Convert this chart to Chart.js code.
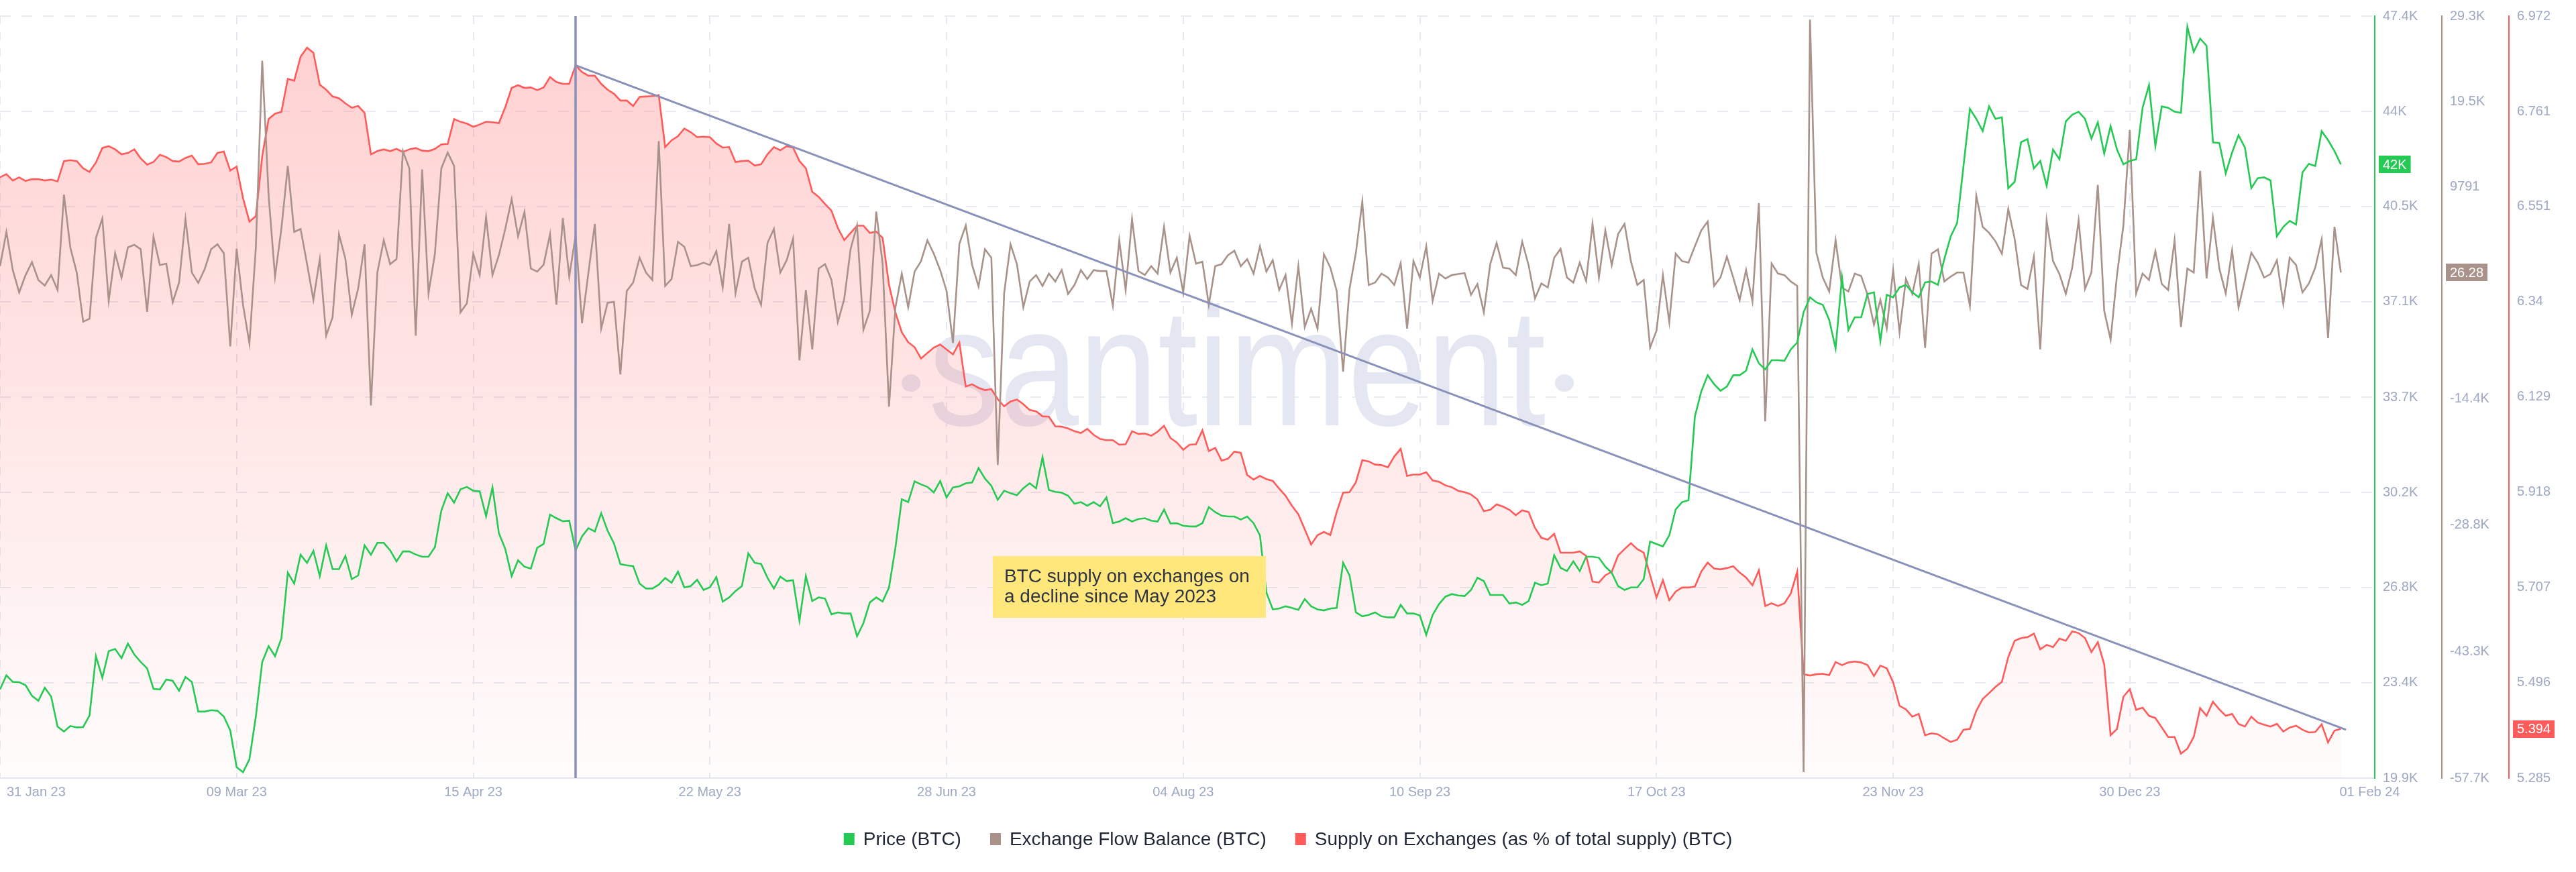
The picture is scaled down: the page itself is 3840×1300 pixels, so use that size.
<!DOCTYPE html>
<html><head><meta charset="utf-8">
<script src="https://cdn.jsdelivr.net/npm/chart.js@4.4.1/dist/chart.umd.min.js"></script>
<style>html,body{margin:0;padding:0;background:#fff;}#wrap{width:3840px;height:1300px;position:relative;}</style>
</head><body><div id="wrap"><canvas id="c" width="3840" height="1300"></canvas></div>
<script>
// ---- data (daily, day 0 = 31 Jan 2023) ----
const startDate = '2023-01-31';
const priceK = [
23.10,23.61,23.37,23.36,23.25,22.87,22.69,23.16,22.84,21.76,
21.58,21.78,21.73,21.74,22.16,24.30,23.52,24.48,24.56,24.23,
24.75,24.36,24.09,23.86,23.12,23.10,23.46,23.41,23.05,23.55,
23.37,22.30,22.30,22.35,22.33,22.12,21.62,20.29,20.11,20.58,
22.12,24.09,24.66,24.30,24.95,27.31,26.92,27.96,27.67,28.10,
27.19,28.30,27.44,27.44,27.92,27.08,27.21,28.30,27.96,28.39,
28.39,28.12,27.72,28.08,28.08,27.97,27.89,27.89,28.24,29.55,
30.18,29.84,30.32,30.41,30.27,30.25,29.35,30.39,28.74,28.17,
27.19,27.76,27.53,27.46,28.21,28.35,29.41,29.28,29.17,29.19,
28.12,28.62,28.92,28.80,29.46,28.83,28.37,27.62,27.58,27.55,
26.92,26.74,26.74,26.88,27.12,26.95,27.35,26.78,26.83,27.06,
26.69,26.79,27.15,26.27,26.42,26.65,26.83,28.01,27.67,27.63,
27.13,26.74,27.17,27.01,27.04,25.58,27.19,26.29,26.42,26.38,
25.81,25.88,25.84,25.84,25.02,25.49,26.24,26.42,26.27,26.78,
28.21,29.96,29.86,30.61,30.50,30.41,30.21,30.62,30.03,30.39,
30.43,30.54,30.57,31.09,30.71,30.45,29.94,30.27,30.18,30.11,
30.36,30.54,30.36,31.48,30.30,30.23,30.20,30.09,29.80,29.86,
29.73,29.86,29.71,30.03,29.10,29.16,29.28,29.16,29.25,29.28,
29.19,29.16,29.59,29.09,29.10,29.01,28.98,28.98,29.10,29.68,
29.50,29.37,29.34,29.34,29.23,29.34,29.10,28.66,26.60,25.99,
26.02,26.10,26.04,25.97,26.36,26.10,25.99,25.95,26.02,26.04,
27.67,27.22,25.88,25.74,25.79,25.88,25.74,25.70,25.70,26.15,
25.84,25.84,25.77,25.07,25.79,26.18,26.45,26.54,26.49,26.47,
26.69,27.13,27.01,26.51,26.51,26.51,26.20,26.24,26.15,26.29,
26.95,26.86,26.92,27.94,27.49,27.37,27.72,27.37,27.89,27.89,
27.85,27.53,27.31,26.83,26.69,26.78,26.78,27.08,28.44,28.35,
28.26,28.66,29.60,29.86,29.93,32.95,33.85,34.44,34.12,33.88,
34.03,34.44,34.44,34.60,35.37,34.87,34.65,34.98,34.98,34.96,
35.37,35.62,36.71,37.25,37.07,36.98,36.44,35.41,37.97,36.07,
36.53,36.53,37.37,37.43,35.67,37.34,37.25,37.61,37.70,37.43,
37.25,37.79,37.82,37.70,38.63,39.45,39.93,41.99,44.05,43.69,
43.25,44.14,43.69,43.75,41.19,41.42,42.85,42.96,41.90,42.17,
41.28,42.58,42.23,43.60,43.84,43.95,43.69,42.98,43.57,42.44,
43.43,42.58,42.05,42.17,42.23,44.09,44.91,42.71,44.14,44.09,
43.95,43.91,47.01,46.11,46.59,46.33,42.84,42.82,41.72,42.48,
43.10,42.66,41.19,41.55,41.58,41.47,39.45,39.79,40.01,39.88,
41.76,42.07,41.99,43.25,42.92,42.53,42.05];
const flowK = [
0.75,4.66,0.30,-2.25,-0.27,1.21,-0.83,-1.46,-0.27,-1.97,
8.91,2.85,0.02,-5.59,-5.25,3.98,6.19,-3.21,2.23,-0.55,
2.90,3.19,2.68,-4.46,4.09,0.87,1.04,-3.38,-1.12,6.13,
0.02,-1.17,0.41,2.68,3.25,2.23,-8.42,2.73,-3.67,-8.08,
2.85,24.20,8.80,-0.44,5.06,12.19,4.66,5.00,1.04,-3.10,
1.55,-7.18,-5.08,4.38,1.60,-4.80,-1.80,3.25,-15.16,0.02,
3.70,0.98,1.55,13.89,11.91,-7.18,11.80,-2.36,2.17,11.91,
13.72,12.19,-4.52,-3.50,2.17,-0.27,6.36,-0.27,2.00,5.00,
8.40,4.15,6.93,0.47,0.13,0.92,4.43,-3.67,6.25,-0.44,
4.26,-5.76,0.02,5.57,-6.38,-3.44,-3.33,-11.60,-2.08,-1.12,
1.71,0.02,-0.83,15.03,-1.51,-0.72,3.53,2.96,0.75,0.87,
1.15,0.87,2.45,-1.68,5.57,-2.36,1.26,1.71,-1.80,-3.67,
3.41,5.00,0.02,1.43,3.90,-10.01,-1.97,-8.76,0.47,0.98,
-0.83,-5.65,-2.99,2.73,5.40,-6.50,-4.35,6.98,1.04,-15.28,
-3.95,-0.10,-3.95,0.13,1.32,3.70,2.17,0.30,-2.08,-8.03,
3.30,5.40,0.87,-1.57,2.68,1.71,-21.96,-2.36,3.25,0.98,
-3.95,-1.00,-0.27,-1.51,-0.10,-1.00,0.30,-2.42,-1.40,0.30,
-0.72,0.30,0.19,0.19,-3.78,3.70,-1.97,6.13,0.19,-0.27,
0.75,-0.10,5.23,0.02,1.71,-2.25,4.20,1.04,1.26,-3.67,
0.75,0.98,2.00,2.51,0.75,1.55,-0.10,3.02,0.13,1.43,
-1.97,-0.27,-5.82,0.75,-6.21,-4.12,-6.38,2.11,0.58,-2.08,
-11.31,-1.85,2.28,8.12,-1.40,-1.12,-0.10,-0.55,-1.40,1.09,
-6.38,1.32,-0.55,3.02,-3.21,-0.10,-0.66,-0.27,-0.15,-0.04,
-2.53,-1.29,-4.52,0.98,3.41,0.58,0.47,-0.27,3.53,0.87,
-2.93,-1.23,-1.68,1.71,2.73,-0.55,-1.12,1.15,-0.95,5.57,
-0.55,4.83,0.87,4.43,5.57,1.32,-1.40,-0.83,-8.54,-6.61,
-0.27,-5.65,2.17,1.32,1.15,3.02,4.83,5.85,-1.51,-0.55,
1.83,-0.55,-3.10,0.30,-3.27,7.95,-16.98,1.04,-0.10,-0.27,
-1.00,-1.51,-57.02,28.90,2.28,-0.55,-2.14,3.70,-1.68,-2.14,
-0.10,-0.38,-2.53,-5.93,-3.10,-6.38,0.30,-6.78,-0.72,-2.42,
0.98,-8.59,2.17,2.68,-1.00,-0.44,0.02,0.02,-3.78,8.80,
5.23,4.55,3.58,2.17,7.27,3.87,-1.40,-1.85,1.83,-8.76,
5.96,1.32,-0.15,-2.42,0.58,5.96,-1.85,0.02,10.04,-4.35,
-7.63,-0.27,5.40,16.27,-2.36,-0.10,-0.83,2.45,-1.29,-1.97,
3.70,-6.21,0.47,0.02,11.63,-0.66,6.25,0.47,-2.36,2.56,
-3.95,-0.83,2.28,1.15,-0.55,-0.15,1.43,-3.55,1.71,0.87,
-2.25,-1.23,0.58,3.81,-7.46,5.23,0.02628];
const supplyPct = [
6.615,6.622,6.608,6.615,6.607,6.611,6.611,6.608,6.610,6.606,
6.651,6.653,6.651,6.635,6.627,6.648,6.680,6.684,6.677,6.666,
6.669,6.677,6.657,6.643,6.649,6.665,6.660,6.651,6.650,6.658,
6.663,6.644,6.645,6.648,6.669,6.672,6.630,6.639,6.569,6.517,
6.529,6.662,6.744,6.756,6.760,6.833,6.829,6.882,6.902,6.891,
6.820,6.809,6.794,6.790,6.779,6.769,6.773,6.758,6.666,6.673,
6.677,6.673,6.678,6.671,6.677,6.680,6.674,6.673,6.678,6.688,
6.689,6.744,6.738,6.734,6.727,6.732,6.738,6.737,6.735,6.770,
6.813,6.819,6.813,6.814,6.808,6.814,6.837,6.826,6.822,6.822,
6.863,6.848,6.840,6.840,6.822,6.809,6.800,6.785,6.785,6.773,
6.793,6.794,6.795,6.797,6.682,6.697,6.706,6.723,6.715,6.704,
6.705,6.704,6.690,6.681,6.682,6.649,6.651,6.652,6.641,6.644,
6.666,6.682,6.675,6.684,6.681,6.651,6.635,6.583,6.572,6.556,
6.541,6.503,6.476,6.492,6.508,6.508,6.492,6.495,6.481,6.377,
6.316,6.272,6.250,6.239,6.214,6.226,6.238,6.245,6.234,6.223,
6.249,6.152,6.157,6.149,6.144,6.146,6.124,6.108,6.119,6.123,
6.113,6.100,6.097,6.086,6.085,6.064,6.063,6.059,6.053,6.049,
6.058,6.045,6.036,6.033,6.033,6.023,6.024,6.053,6.047,6.048,
6.043,6.052,6.065,6.038,6.028,6.012,6.023,6.024,6.055,6.009,
6.016,5.988,5.992,6.008,6.005,5.956,5.946,5.954,5.947,5.943,
5.926,5.910,5.888,5.869,5.836,5.802,5.823,5.830,5.823,5.874,
5.917,5.918,5.940,5.989,5.986,5.979,5.978,5.973,5.997,6.014,
5.954,5.957,5.957,5.962,5.944,5.941,5.933,5.929,5.921,5.918,
5.913,5.902,5.876,5.879,5.891,5.886,5.879,5.867,5.878,5.874,
5.839,5.817,5.813,5.826,5.784,5.784,5.784,5.787,5.777,5.720,
5.718,5.734,5.742,5.778,5.792,5.805,5.792,5.784,5.734,5.685,
5.723,5.679,5.698,5.707,5.707,5.709,5.742,5.762,5.749,5.747,
5.750,5.754,5.740,5.729,5.712,5.745,5.666,5.672,5.666,5.672,
5.694,5.742,5.515,5.512,5.515,5.516,5.513,5.542,5.535,5.541,
5.543,5.541,5.535,5.511,5.534,5.528,5.497,5.445,5.437,5.421,
5.427,5.380,5.384,5.382,5.373,5.365,5.370,5.392,5.394,5.434,
5.460,5.473,5.487,5.498,5.553,5.589,5.595,5.597,5.605,5.570,
5.580,5.575,5.594,5.589,5.610,5.606,5.595,5.564,5.586,5.537,
5.380,5.394,5.465,5.482,5.436,5.441,5.423,5.418,5.397,5.376,
5.376,5.339,5.350,5.376,5.440,5.423,5.454,5.437,5.423,5.427,
5.405,5.399,5.421,5.408,5.403,5.399,5.405,5.388,5.397,5.401,
5.392,5.386,5.387,5.404,5.364,5.390,5.394];
const trendLine = [{x: 90, y: 6.863}, {x: 366.8, y: 5.392}];
const markerDay = 90;
const xTickDays = [0, 37, 74, 111, 148, 185, 222, 259, 296, 333];
const xTickLabels = ['31 Jan 23','09 Mar 23','15 Apr 23','22 May 23','28 Jun 23','04 Aug 23','10 Sep 23','17 Oct 23','23 Nov 23','30 Dec 23'];
const endTickDay = 366, endTickLabel = '01 Feb 24';
const priceTickValues = [19.9, 23.34, 26.78, 30.21, 33.65, 37.09, 40.53, 43.96, 47.4];
const priceTickLabels = ['19.9K','23.4K','26.8K','30.2K','33.7K','37.1K','40.5K','44K','47.4K'];
const flowTickValues = [-57.7, -43.3, -28.8, -14.4, 9.791, 19.5, 29.3];
const flowTickLabels = ['-57.7K','-43.3K','-28.8K','-14.4K','9791','19.5K','29.3K'];
const supplyTickValues = [5.285, 5.496, 5.707, 5.918, 6.129, 6.34, 6.551, 6.761, 6.972];
const supplyTickLabels = ['5.285','5.496','5.707','5.918','6.129','6.34','6.551','6.761','6.972'];
const seriesNames = ['Price (BTC)', 'Exchange Flow Balance (BTC)', 'Supply on Exchanges (as % of total supply) (BTC)'];
const noteLines = ['BTC supply on exchanges on', 'a decline since May 2023'];
const watermarkText = 'santiment';

const GREEN = '#26c953', BROWN = '#a8928a', RED = '#ff5b5b', SLATE = '#8a91b9';
const TICK_COLOR = '#9ea8c3';
const FONT = '"Liberation Sans", Arial, Helvetica, sans-serif';
const toXY = arr => arr.map((v, i) => ({x: i, y: v}));

const decor = {
  id: 'decor',
  beforeDatasetsDraw(chart) {
    const ctx = chart.ctx;
    ctx.save();
    ctx.fillStyle = '#e4e7f2';
    ctx.font = '250px ' + FONT;
    ctx.textBaseline = 'alphabetic';
    ctx.textAlign = 'left';
    const w = ctx.measureText(watermarkText).width;
    const target = 920;
    ctx.translate(1384, 634);
    ctx.scale(target / w, 1);
    ctx.fillText(watermarkText, 0, 0);
    ctx.restore();
    ctx.save();
    ctx.fillStyle = '#e4e7f2';
    ctx.beginPath(); ctx.ellipse(1358, 571, 14, 13, 0, 0, Math.PI * 2); ctx.fill();
    ctx.beginPath(); ctx.ellipse(2332, 571, 14, 13, 0, 0, Math.PI * 2); ctx.fill();
    ctx.restore();
  },
  afterDatasetsDraw(chart) {
    const ctx = chart.ctx, ca = chart.chartArea;
    const xs = chart.scales.x;
    ctx.save();
    const vx = Math.round(xs.getPixelForValue(markerDay));
    ctx.strokeStyle = SLATE; ctx.lineWidth = 3.5;
    ctx.beginPath(); ctx.moveTo(vx, ca.top); ctx.lineTo(vx, ca.bottom); ctx.stroke();
    // note box
    ctx.fillStyle = '#ffe77b';
    ctx.fillRect(1480, 829, 407, 92);
    ctx.fillStyle = '#2e3346';
    ctx.font = '28px ' + FONT;
    ctx.textAlign = 'left'; ctx.textBaseline = 'alphabetic';
    ctx.fillText(noteLines[0], 1497, 868);
    ctx.fillText(noteLines[1], 1497, 898);
    ctx.restore();
  },
  afterDraw(chart) {
    const ctx = chart.ctx, ca = chart.chartArea;
    const xs = chart.scales.x;
    ctx.save();
    // x tick labels
    ctx.fillStyle = TICK_COLOR;
    ctx.font = '20px ' + FONT;
    ctx.textBaseline = 'alphabetic';
    xTickDays.forEach((d, i) => {
      const px = xs.getPixelForValue(d);
      if (i === 0) { ctx.textAlign = 'left'; ctx.fillText(xTickLabels[i], px + 10, 1187); }
      else { ctx.textAlign = 'center'; ctx.fillText(xTickLabels[i], px, 1187); }
    });
    ctx.textAlign = 'left';
    ctx.fillText(endTickLabel, xs.getPixelForValue(endTickDay) - 2, 1187);
    // legend
    ctx.font = '28px ' + FONT;
    const colors = [GREEN, BROWN, RED];
    const widths = seriesNames.map(n => ctx.measureText(n).width);
    const boxW = 16, boxGap = 13, itemGap = 43;
    const total = widths.reduce((a, w) => a + boxW + boxGap + w, 0) + itemGap * (seriesNames.length - 1);
    let lx = 1920 - total / 2;
    seriesNames.forEach((n, i) => {
      ctx.fillStyle = colors[i];
      ctx.fillRect(lx, 1242, boxW, 18);
      ctx.fillStyle = '#1f2636';
      ctx.textAlign = 'left';
      ctx.fillText(n, lx + boxW + boxGap, 1260);
      lx += boxW + boxGap + widths[i] + itemGap;
    });
    // last value badges
    const badges = [
      {scale: chart.scales.yPrice, v: priceK[priceK.length - 1], txt: Math.round(priceK[priceK.length - 1]) + 'K', c: GREEN},
      {scale: chart.scales.yFlow, v: flowK[flowK.length - 1], txt: (flowK[flowK.length - 1] * 1000).toFixed(2), c: BROWN},
      {scale: chart.scales.ySupply, v: supplyPct[supplyPct.length - 1], txt: supplyPct[supplyPct.length - 1].toFixed(3), c: RED}
    ];
    ctx.font = '20px ' + FONT;
    ctx.textBaseline = 'middle';
    badges.forEach(b => {
      const py = b.scale.getPixelForValue(b.v);
      const tw = ctx.measureText(b.txt).width;
      const bx = b.scale.left + 6;
      ctx.fillStyle = b.c;
      ctx.fillRect(bx, Math.round(py - 13), tw + 12, 26);
      ctx.fillStyle = '#ffffff';
      ctx.textAlign = 'left';
      ctx.fillText(b.txt, bx + 6, py + 1);
    });
    ctx.restore();
  }
};

const yAxis = (weight, min, max, values, labels, borderColor, showGrid) => ({
  type: 'linear', position: 'right', weight, min, max,
  afterBuildTicks: s => { s.ticks = values.map(v => ({value: v})); },
  afterFit: s => { s.width = 100; },
  ticks: {
    callback: (v, i) => labels[i], color: TICK_COLOR, padding: 12, autoSkip: false,
    font: {size: 20, family: FONT}
  },
  grid: {display: showGrid, drawTicks: false, color: '#e9ebf3', lineWidth: 2},
  border: {display: true, color: borderColor, width: 2, dash: [16, 16]}
});

new Chart(document.getElementById('c'), {
  type: 'line',
  data: {
    datasets: [
      {label: 'trend', data: trendLine, yAxisID: 'ySupply', borderColor: SLATE, borderWidth: 3, pointRadius: 0, fill: false, order: 1},
      {label: seriesNames[0], data: toXY(priceK), yAxisID: 'yPrice', borderColor: GREEN, borderWidth: 2.6, pointRadius: 0, fill: false, tension: 0, order: 2},
      {label: seriesNames[1], data: toXY(flowK), yAxisID: 'yFlow', borderColor: BROWN, borderWidth: 2.6, pointRadius: 0, fill: false, tension: 0, order: 3},
      {label: seriesNames[2], data: toXY(supplyPct), yAxisID: 'ySupply', borderColor: RED, borderWidth: 2.6, pointRadius: 0, tension: 0, order: 4,
        fill: 'start',
        backgroundColor: (c) => {
          const ca = c.chart.chartArea;
          if (!ca) return 'rgba(255,91,91,0.15)';
          const g = c.chart.ctx.createLinearGradient(0, ca.top, 0, ca.bottom);
          g.addColorStop(0, 'rgba(255,91,91,0.29)');
          g.addColorStop(1, 'rgba(255,91,91,0.02)');
          return g;
        }}
    ]
  },
  options: {
    responsive: false, animation: false, devicePixelRatio: 1,
    layout: {padding: {top: 13, left: 0, right: 0, bottom: 0}},
    plugins: {legend: {display: false}, tooltip: {enabled: false}},
    scales: {
      x: {
        type: 'linear', position: 'bottom', min: 0, max: 371.3,
        afterBuildTicks: s => { s.ticks = xTickDays.map(v => ({value: v})); },
        afterFit: s => { s.height = 140; },
        ticks: {display: false},
        grid: {drawTicks: false, color: '#e6e9f2', lineWidth: 2},
        border: {display: true, color: '#e3e6ee', width: 2, dash: [12, 12]}
      },
      yPrice: yAxis(1, 19.9, 47.4, priceTickValues, priceTickLabels, GREEN, true),
      yFlow: yAxis(2, -57.7, 29.3, flowTickValues, flowTickLabels, BROWN, false),
      ySupply: yAxis(3, 5.285, 6.972, supplyTickValues, supplyTickLabels, RED, false)
    }
  },
  plugins: [decor]
});
</script></body></html>
